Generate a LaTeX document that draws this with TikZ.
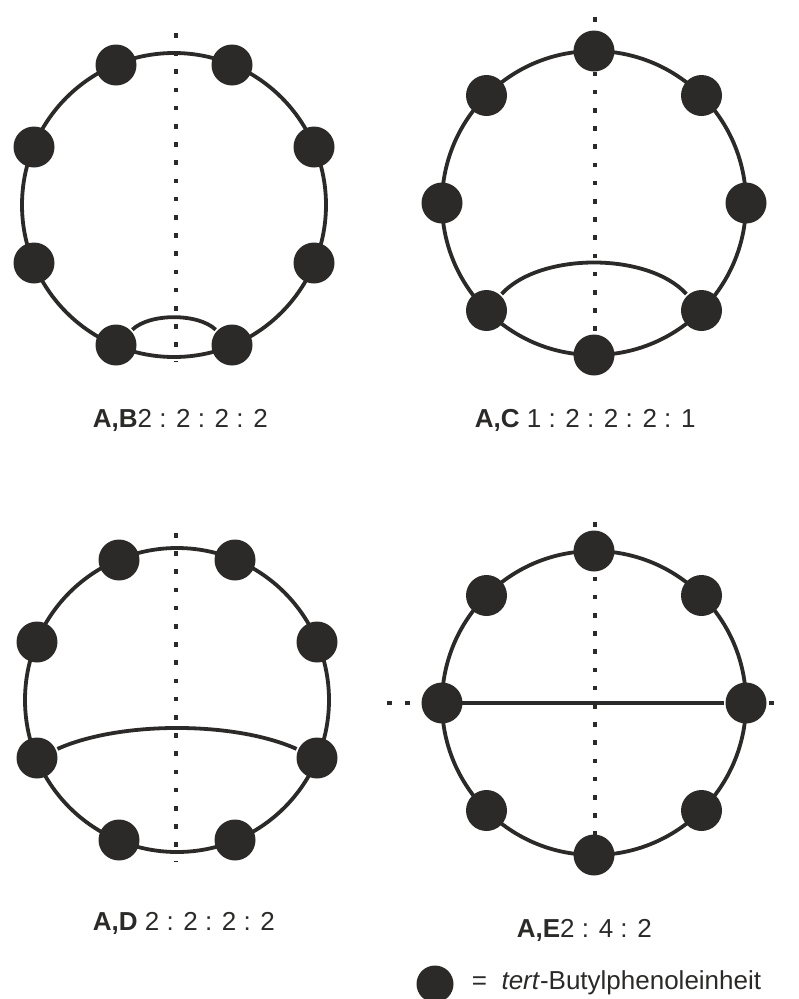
\documentclass[tikz,border=0pt]{standalone}
\usepackage{fontspec}
\setmainfont{Liberation Sans}
\usepackage{tikz}
\definecolor{ink}{RGB}{43,42,41}

\begin{document}
\begin{tikzpicture}[x=1pt, y=-1pt, line width=3.8pt, color=ink,
    unit/.style={circle, fill=ink, inner sep=0pt, minimum size=41pt},
    axis/.style={line width=4.5pt, dash pattern=on 4.5pt off 13.7pt},
    ratio/.style={anchor=base west, inner sep=0pt, font=\fontsize{26}{30}\selectfont}]
    \useasboundingbox (0,0) rectangle (799,999);

    % A,B
    \coordinate (ab) at (174,205);
    \draw[axis] (176,33) -- (176,362);
    \draw (ab) circle (152);
    \node[unit] (ab1) at (116,65) {};
    \node[unit] (ab2) at (232,65) {};
    \node[unit] (ab3) at (34,147) {};
    \node[unit] (ab4) at (314,147) {};
    \node[unit] (ab5) at (34,263) {};
    \node[unit] (ab6) at (314,263) {};
    \node[unit] (ab7) at (116,345) {};
    \node[unit] (ab8) at (232,345) {};
    \draw (ab7) .. controls (150,313) and (198,313) .. (ab8);
    \node[ratio] (labab) at (91,427) {\textbf{A,B}2 : 2 : 2 : 2};

    % A,C
    \coordinate (ac) at (594,203);
    \draw[axis] (595,17) -- (595,380);
    \draw (ac) circle (152);
    \node[unit] (ac1) at (594,51) {};
    \node[unit] (ac2) at (701.5,95.5) {};
    \node[unit] (ac3) at (746,203) {};
    \node[unit] (ac4) at (701.5,310.5) {};
    \node[unit] (ac5) at (594,355) {};
    \node[unit] (ac6) at (486.5,310.5) {};
    \node[unit] (ac7) at (442,203) {};
    \node[unit] (ac8) at (486.5,95.5) {};
    \draw (ac6) .. controls (540,252) and (648,252) .. (ac4);
    \node[ratio] (labac) at (473,427) {\textbf{A,C} 1 : 2 : 2 : 2 : 1};

    % A,D
    \coordinate (ad) at (177,700);
    \draw[axis] (176,533) -- (176,862);
    \draw (ad) circle (152);
    \node[unit] (ad1) at (119,560) {};
    \node[unit] (ad2) at (235,560) {};
    \node[unit] (ad3) at (37,642) {};
    \node[unit] (ad4) at (317,642) {};
    \node[unit] (ad5) at (37,758) {};
    \node[unit] (ad6) at (317,758) {};
    \node[unit] (ad7) at (119,840) {};
    \node[unit] (ad8) at (235,840) {};
    \draw (ad5) .. controls (120,721) and (234,721) .. (ad6);
    \node[ratio] (labad) at (91,930) {\textbf{A,D} 2 : 2 : 2 : 2};

    % A,E
    \coordinate (ae) at (594,703);
    \draw[axis] (595,522) -- (595,885);
    \draw[axis] (387,703) -- (787,703);
    \draw (ae) circle (152);
    \node[unit] (ae1) at (594,551) {};
    \node[unit] (ae2) at (701.5,595.5) {};
    \node[unit] (ae3) at (746,703) {};
    \node[unit] (ae4) at (701.5,810.5) {};
    \node[unit] (ae5) at (594,855) {};
    \node[unit] (ae6) at (486.5,810.5) {};
    \node[unit] (ae7) at (442,703) {};
    \node[unit] (ae8) at (486.5,595.5) {};
    \draw (ae7) -- (ae3);
    \node[ratio] (labae) at (515,937) {\textbf{A,E}2 : 4 : 2};

    %legende
    \node[unit, minimum size=37pt] (legdot) at (435,984) {};
    \node[ratio] (legtext) at (470,989) {=~~\textit{tert}-Butylphenoleinheit};
\end{tikzpicture}
\end{document}
